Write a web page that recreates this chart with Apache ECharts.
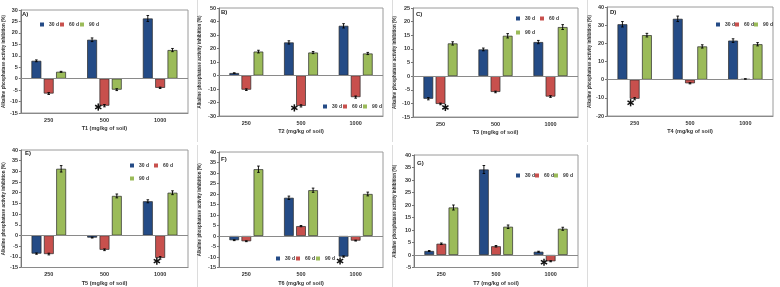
<!DOCTYPE html>
<html><head><meta charset="utf-8">
<script src="https://cdn.jsdelivr.net/npm/echarts/dist/echarts.min.js"></script>
<style>html,body{margin:0;padding:0;background:#fff}#c{width:780px;height:287px}</style>
</head><body><div id="c"></div>
<script>
// ---------- DATA ----------
const categories = ['250', '500', '1000'];
const seriesNames = ['30 d', '60 d', '90 d'];
const panelLetters = ['A)', 'B)', 'C)', 'D)', 'E)', 'F)', 'G)'];
const xAxisNames = ['T1 (mg/kg of soil)', 'T2 (mg/kg of soil)', 'T3 (mg/kg of soil)', 'T4 (mg/kg of soil)', 'T5 (mg/kg of soil)', 'T6 (mg/kg of soil)', 'T7 (mg/kg of soil)'];
const yAxisName = 'Alkaline phosphatase activity inhibition (%)';
const yMin = [-15, -30, -15, -20, -15, -15, -5];
const yMax = [30, 50, 25, 40, 40, 40, 40];
const yStep = [5, 10, 5, 10, 5, 5, 5];

const A30 = [7.8, 17.0, 26.3],   A60 = [-6.5, -11.8, -4.0],  A90 = [3.0, -4.8, 12.5];
const A30e = [0.4, 0.8, 1.3],    A60e = [0.4, 0.5, 0.3],     A90e = [0.2, 0.4, 0.7];
const B30 = [1.8, 24.5, 36.8],   B60 = [-10.5, -22.5, -16.0], B90 = [17.7, 17.0, 16.3];
const B30e = [0.2, 1.2, 1.6],    B60e = [0.6, 0.8, 0.8],     B90e = [1.0, 0.8, 0.8];
const C30 = [-8.3, 9.8, 12.5],   C60 = [-10.2, -5.8, -7.5],  C90 = [12.0, 14.8, 18.0];
const C30e = [0.4, 0.5, 0.6],    C60e = [0.3, 0.3, 0.3],     C90e = [0.6, 0.8, 0.9];
const D30 = [30.5, 33.5, 21.5],  D60 = [-10.5, -2.0, 0.4],   D90 = [24.5, 18.3, 19.5];
const D30e = [1.5, 1.5, 1.0],    D60e = [0.6, 0.3, 0.1],     D90e = [1.0, 0.9, 0.9];
const E30 = [-8.5, -1.0, 16.0],  E60 = [-8.7, -6.7, -10.5],  E90 = [31.2, 18.5, 20.0];
const E30e = [0.3, 0.2, 0.7],    E60e = [0.4, 0.4, 0.6],     E90e = [1.5, 0.9, 0.9];
const F30 = [-2.0, 18.2, -9.8],  F60 = [-2.5, 4.7, -2.2],    F90 = [31.8, 21.8, 20.0];
const F30e = [0.2, 0.8, 0.3],    F60e = [0.2, 0.3, 0.2],     F90e = [1.5, 1.0, 0.9];
const G30 = [1.6, 34.2, 1.3],    G60 = [4.5, 3.5, -2.5],     G90 = [19.0, 11.3, 10.5];
const G30e = [0.2, 1.6, 0.2],    G60e = [0.3, 0.3, 0.2],     G90e = [1.0, 0.7, 0.6];
// significance asterisks: [category index, bar position (0=30 d,1=60 d,2=90 d), value]
const starA = [1, 0.5, -12.4];
const starB = [1, 0.45, -24.0];
const starC = [0, 1.4, -11.5];
const starD = [0, 0.67, -12.7];
const starE = [2, 0.73, -12.0];
const starF = [2, -0.29, -11.9];
const starG = [2, 0.45, -2.9];

const values = [[A30, A60, A90], [B30, B60, B90], [C30, C60, C90], [D30, D60, D90], [E30, E60, E90], [F30, F60, F90], [G30, G60, G90]];
const errors = [[A30e, A60e, A90e], [B30e, B60e, B90e], [C30e, C60e, C90e], [D30e, D60e, D90e], [E30e, E60e, E90e], [F30e, F60e, F90e], [G30e, G60e, G90e]];
const stars = [starA, starB, starC, starD, starE, starF, starG];

// ---------- LAYOUT / STYLE ----------
const colors = ['#244B86', '#C8504D', '#9BBB59'];
const layout = [
  {l: 20, t: 10, w: 168, h: 103, ng: 13, letter: [22, 15], legends: [{left: 40, top: 22, items: [0, 1, 2], gap: 1}]},
  {l: 219, t: 8, w: 164, h: 108, ng: 17, letter: [221, 13], legends: [{left: 323, top: 104, items: [0, 1, 2], gap: 1}]},
  {l: 413, t: 8, w: 165, h: 109, ng: 16, letter: [416, 15], legends: [{left: 516, top: 16, items: [0, 1], gap: 5}, {left: 516, top: 30, items: [2], gap: 1}]},
  {l: 607, t: 7, w: 166, h: 109, ng: 15, letter: [610, 13], legends: [{left: 716, top: 22, items: [0, 1, 2], gap: 0}]},
  {l: 21, t: 150, w: 167, h: 121, ng: 14, letter: [25, 154], legends: [{left: 130, top: 163, items: [0, 1], gap: 5}, {left: 130, top: 176, items: [2], gap: 1}]},
  {l: 219, t: 152, w: 164, h: 119, ng: 17, letter: [221, 160], legends: [{left: 276, top: 256, items: [0, 1, 2], gap: 1}]},
  {l: 414, t: 155, w: 164, h: 116, ng: 17, letter: [417, 164], legends: [{left: 516, top: 173, items: [0, 1, 2], gap: 0}]}
];
const CAT_GAP = 0.38, BAR_GAP = 0.25;
const FONT = 'Liberation Sans, Arial, sans-serif';

function barX(api, c, p) {
  const catW = api.size([1, 0])[0];
  const bw = catW * (1 - CAT_GAP) / (3 + 2 * BAR_GAP);
  return api.coord([c, 0])[0] + (p - 1) * bw * (1 + BAR_GAP);
}
function errRender(params, api) {
  const c = api.value(0), v = api.value(1), e = api.value(2), p = api.value(3);
  const x = barX(api, c, p);
  const yt = api.coord([c, v + e])[1], yb = api.coord([c, v - e])[1];
  const st = {stroke: '#000', lineWidth: 0.9};
  return {type: 'group', children: [
    {type: 'line', shape: {x1: x, y1: yt, x2: x, y2: yb}, style: st},
    {type: 'line', shape: {x1: x - 1.3, y1: yt, x2: x + 1.3, y2: yt}, style: st},
    {type: 'line', shape: {x1: x - 1.3, y1: yb, x2: x + 1.3, y2: yb}, style: st}
  ]};
}
function starRender(params, api) {
  const c = api.value(0), p = api.value(1), v = api.value(2);
  const x = barX(api, c, p), y = api.coord([c, v])[1];
  const r = 3.6, kids = [];
  for (let k = 0; k < 3; k++) {
    const a = Math.PI / 2 + k * Math.PI / 3;
    kids.push({type: 'line', shape: {x1: x - r * Math.cos(a), y1: y - r * Math.sin(a), x2: x + r * Math.cos(a), y2: y + r * Math.sin(a)},
      style: {stroke: '#111', lineWidth: 1.5}});
  }
  return {type: 'group', children: kids};
}

const grid = [], xAxis = [], yAxis = [], series = [], legend = [], graphic = [];
layout.forEach((L, i) => {
  grid.push({left: L.l, top: L.t, width: L.w, height: L.h, show: true, borderColor: '#9a9a9a', borderWidth: 1, backgroundColor: '#fff'});
  xAxis.push({type: 'category', gridIndex: i, data: categories, axisLine: {onZero: false, lineStyle: {color: '#8a8a8a'}},
    axisTick: {show: false}, axisLabel: {fontSize: 5.5, color: '#333', margin: 4, fontFamily: FONT, fontWeight: 'bold'},
    name: xAxisNames[i], nameLocation: 'middle', nameGap: 12.5, nameTextStyle: {fontSize: 5.5, color: '#333', fontFamily: FONT, fontWeight: 'bold'}});
  yAxis.push({type: 'value', gridIndex: i, min: yMin[i], max: yMax[i], interval: yStep[i], splitLine: {show: false},
    axisLine: {show: true, lineStyle: {color: '#777'}}, axisTick: {show: true, length: 2, lineStyle: {color: '#777'}},
    axisLabel: {fontSize: 5.5, color: '#333', margin: 3, fontFamily: FONT, fontWeight: 'bold'},
    name: yAxisName, nameLocation: 'middle', nameGap: L.ng, nameRotate: 90,
    nameTextStyle: {fontSize: 4.5, color: '#333', fontFamily: FONT, fontWeight: 'bold'}});
  for (let s = 0; s < 3; s++) {
    const ser = {type: 'bar', name: seriesNames[s], xAxisIndex: i, yAxisIndex: i, data: values[i][s],
      barGap: (BAR_GAP * 100) + '%', barCategoryGap: (CAT_GAP * 100) + '%',
      itemStyle: {color: colors[s], borderColor: '#2a2a2a', borderWidth: 0.7}, animation: false};
    if (s === 0) ser.markLine = {silent: true, symbol: 'none', label: {show: false}, lineStyle: {color: '#8a8a8a', width: 1, type: 'solid'}, data: [{yAxis: 0}], animation: false};
    series.push(ser);
  }
  const ed = [];
  for (let s = 0; s < 3; s++) for (let c = 0; c < 3; c++) ed.push([c, values[i][s][c], errors[i][s][c], s]);
  series.push({type: 'custom', xAxisIndex: i, yAxisIndex: i, data: ed, renderItem: errRender, z: 5, animation: false, silent: true});
  series.push({type: 'custom', xAxisIndex: i, yAxisIndex: i, data: [stars[i]], renderItem: starRender, z: 6, animation: false, silent: true,
    encode: {x: 0, y: 2}});
  L.legends.forEach(g => {
    legend.push({left: g.left, top: g.top, data: g.items.map(k => seriesNames[k]), itemWidth: 4, itemHeight: 4, itemGap: g.gap,
      icon: 'rect', padding: 0, selectedMode: false, itemStyle: {borderWidth: 0},
      textStyle: {fontSize: 5, color: '#333', fontFamily: FONT, fontWeight: 'bold'}});
  });
  graphic.push({type: 'text', left: L.letter[0], top: L.letter[1] - 3.5, style: {text: panelLetters[i], fontSize: 6, fontWeight: 'bold', fill: '#222', fontFamily: FONT}, z: 10});
});
// faint outer chart-area borders on the right of each panel
[[197, 0, 142], [392, 0, 142], [587, 0, 142], [197, 145, 287], [392, 145, 287], [587, 145, 287]].forEach(b => {
  graphic.push({type: 'line', shape: {x1: b[0] + 0.5, y1: b[1], x2: b[0] + 0.5, y2: b[2]}, style: {stroke: '#dcdcdc', lineWidth: 1}, z: 0});
});

const chart = echarts.init(document.getElementById('c'), null, {renderer: 'canvas'});
chart.setOption({animation: false, backgroundColor: '#fff', grid, xAxis, yAxis, series, legend, graphic});
</script>
</body></html>
